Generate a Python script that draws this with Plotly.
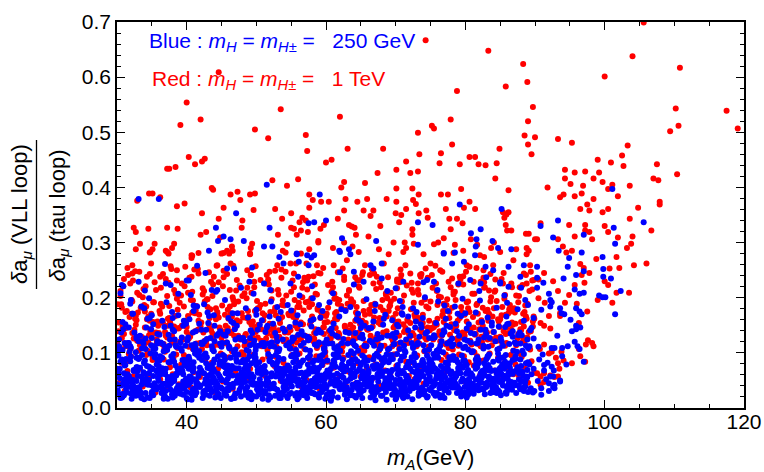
import plotly.graph_objects as go

# ---------------- data ----------------
# Red : m_H = m_H+- = 1 TeV  -- scattered upper points
red_top_x = [
    44.6, 105.6, 104.0, 110.8, 88.3, 100.0, 85.8, 88.9, 78.8, 74.3,
    83.3, 40.0, 53.5, 39.1, 42.0, 49.8, 51.7, 57.1, 57.3, 40.3,
    41.2, 42.2, 42.6, 60.0, 37.2, 37.5, 38.4, 43.6, 43.8, 56.0,
    52.3, 54.4, 34.6, 35.1, 32.9, 36.2, 38.6, 39.7, 46.3, 47.3,
    47.7, 49.1, 49.8, 45.3, 42.2, 49.6, 52.7, 57.6, 58.1, 59.3,
    57.6, 55.0, 44.6, 48.0, 53.7, 56.6, 57.1, 56.2, 32.4, 32.7,
    34.5, 37.2, 38.7, 47.9, 42.0, 42.8, 44.8, 53.1, 55.0, 55.4,
    55.8, 56.4, 57.4, 59.2, 59.7, 58.9, 58.9, 33.3, 32.7, 35.4,
    35.1, 34.7, 37.0, 37.4, 38.2, 37.9, 40.7, 40.7, 45.8, 46.1,
    46.6, 46.5, 45.0, 49.2, 49.4, 49.1, 54.4, 53.8, 56.4, 57.6,
    62.0, 89.7, 89.0, 77.9, 75.2, 75.5, 73.2, 88.5, 90.0, 89.0,
    89.5, 78.1, 63.1, 68.2, 84.9, 60.8, 73.4, 76.5, 71.5, 76.3,
    79.2, 80.6, 81.4, 81.9, 82.9, 84.5, 67.4, 70.1, 72.1, 73.2,
    84.3, 62.6, 62.2, 65.6, 60.4, 62.8, 64.5, 65.9, 68.7, 70.1,
    70.1, 72.4, 72.5, 72.9, 73.3, 76.5, 77.5, 79.4, 86.2, 80.6,
    79.8, 81.4, 85.4, 85.9, 86.2, 62.6, 65.4, 66.8, 66.4, 70.0,
    70.8, 71.5, 73.3, 74.4, 74.6, 77.2, 77.7, 78.8, 79.6, 61.7,
    63.3, 63.7, 64.1, 67.8, 70.5, 72.4, 72.4, 77.9, 85.6, 85.8,
    86.6, 86.0, 88.7, 89.1, 90.0, 61.0, 62.6, 63.8, 64.3, 66.1,
    67.6, 69.7, 71.3, 71.5, 72.6, 75.5, 76.1, 76.9, 78.5, 79.7,
    80.8, 81.7, 82.7, 83.7, 84.1, 88.8, 89.1, 87.3, 110.2, 117.5,
    119.1, 110.6, 109.4, 93.3, 95.3, 103.3, 102.5, 99.0, 100.9, 102.7,
    107.5, 94.3, 95.7, 97.2, 99.2, 110.4, 94.3, 98.4, 99.7, 107.0,
    107.7, 91.8, 95.1, 96.9, 101.1, 100.5, 103.6, 93.6, 94.1, 95.7,
    96.7, 98.4, 101.9, 97.5, 96.5, 97.8, 99.7, 100.5, 104.8, 107.9,
    107.9, 103.6, 90.8, 94.9, 97.2, 100.0, 97.2, 97.8, 100.5, 106.7,
    95.7, 98.2, 101.9, 104.0, 93.3, 90.3, 94.0, 94.5, 95.3, 103.8,
    103.2, 101.7, 98.8, 104.2, 106.0, 102.1, 100.7, 97.8, 97.0, 96.5,
    96.7, 100.0, 100.5, 97.1, 101.7, 103.5, 99.0, 101.1, 97.5, 96.0,
    95.7, 94.9, 93.3, 92.6, 91.3, 90.5, 91.4, 90.5, 94.3, 93.6,
    93.6, 92.0, 90.8, 91.3, 92.2, 96.3, 97.6, 97.3, 98.2, 98.4,
    96.3, 96.5, 97.2, 95.3, 91.3, 90.7, 92.4, 92.0, 93.8, 93.0,
    93.3, 93.5, 94.1, 90.3, 90.8, 91.3, 92.2, 92.8, 93.3, 90.8, 91.3,
    34.8, 37.2, 40.8, 41.7, 45.3, 49.1, 54.2, 32.2, 32.2, 36.2,
    38.6, 39.8, 44.4, 46.3, 48.7, 51.5, 53.0, 54.9, 55.4, 57.5,
    58.7, 59.2, 64.7, 69.0, 71.1, 74.0, 78.3, 82.1, 85.0, 88.8,
    61.1, 63.0, 68.3, 72.1, 75.0, 76.4, 80.2, 82.6, 84.0, 86.9,
    89.3, 64.9, 67.3, 70.2, 73.5, 78.1, 81.2, 88.4, 89.8,
]
red_top_y = [
    .609, .699, .638, .617, .624, .601, .583, .591, .575, .667,
    .648, .554, .542, .513, .523, .505, .489, .495, .466, .455,
    .442, .447, .452, .445, .434, .434, .437, .399, .396, .415,
    .413, .403, .389, .389, .376, .382, .366, .371, .387, .392,
    .377, .387, .389, .363, .353, .359, .361, .387, .377, .374,
    .363, .353, .343, .340, .343, .345, .340, .337, .327, .319,
    .325, .327, .325, .327, .314, .319, .309, .314, .327, .325,
    .314, .322, .319, .325, .332, .303, .300, .298, .288, .298,
    .288, .282, .285, .280, .298, .290, .277, .272, .285, .280,
    .285, .293, .280, .290, .298, .280, .298, .285, .280, .288,
    .528, .546, .520, .523, .512, .507, .499, .494, .491, .478,
    .460, .478, .470, .470, .470, .450, .460, .462, .447, .444,
    .442, .455, .455, .442, .440, .444, .426, .432, .426, .429,
    .416, .410, .400, .408, .374, .379, .374, .379, .379, .398,
    .374, .398, .377, .370, .387, .387, .387, .397, .395, .374,
    .363, .361, .355, .351, .355, .358, .358, .358, .348, .353,
    .350, .361, .353, .358, .345, .361, .343, .343, .335, .343,
    .332, .329, .327, .330, .337, .324, .314, .324, .345, .332,
    .322, .322, .316, .316, .306, .290, .300, .293, .314, .311,
    .288, .300, .300, .290, .298, .297, .300, .308, .296, .285,
    .306, .296, .274, .290, .300, .290, .285, .288, .543, .539,
    .507, .512, .502, .488, .481, .476, .458, .450, .445, .439,
    .442, .432, .427, .429, .427, .424, .416, .416, .410, .416,
    .413, .400, .406, .403, .405, .397, .403, .382, .387, .384,
    .389, .379, .384, .369, .361, .358, .355, .361, .363, .374,
    .369, .343, .335, .332, .332, .330, .322, .319, .319, .322,
    .311, .306, .309, .311, .306, .306, .293, .282, .285, .298,
    .290, .274, .270, .259, .262, .254, .253, .245, .254, .261,
    .241, .230, .223, .227, .209, .209, .196, .191, .175, .189,
    .223, .205, .212, .230, .245, .233, .191, .199, .191, .172,
    .167, .167, .154, .149, .144, .154, .123, .115, .118, .112,
    .107, .094, .084, .081, .115, .107, .102, .099, .102, .091,
    .081, .071, .086, .063, .057, .063, .059, .056, .057, .042, .047,
    .283, .283, .276, .281, .281, .279, .282, .259, .244, .238,
    .250, .256, .259, .262, .250, .241, .259, .262, .244, .238,
    .259, .244, .283, .279, .283, .279, .281, .277, .283, .279,
    .259, .268, .262, .244, .262, .250, .259, .250, .259, .268,
    .259, .232, .238, .229, .241, .235, .229, .244, .232,
]

# Red : first band of points below 0.27
red_band_x = [
    30.2, 30.6, 31.1, 31.5, 32.0, 32.4, 32.9, 30.4, 30.9, 31.3, 31.8, 32.2, 32.7, 30.1, 30.7, 31.2, 31.6, 32.1, 32.5, 32.8, 30.5, 31.0, 31.9, 32.6,
    33.3, 33.7, 34.2, 34.6, 35.1, 35.5, 35.9, 33.1, 33.6, 34.0, 34.5, 34.9, 35.4, 35.8, 33.4, 33.9, 34.3, 34.8, 35.2, 35.7, 33.2, 34.1, 34.7, 35.6,
    36.2, 36.7, 37.1, 37.6, 38.0, 38.5, 38.9, 36.4, 36.9, 37.3, 37.8, 38.2, 38.7, 36.1, 36.6, 37.0, 37.5, 37.9, 38.4, 38.8, 36.3, 37.2, 37.7, 38.6,
    39.2, 39.7, 40.1, 40.6, 41.0, 41.5, 41.9, 39.4, 39.9, 40.3, 40.8, 41.2, 41.7, 39.1, 39.6, 40.0, 40.5, 40.9, 41.4, 41.8, 39.3, 40.2, 40.7, 41.6,
    42.2, 42.7, 43.1, 43.6, 44.0, 44.5, 44.9, 42.4, 42.9, 43.3, 43.8, 44.2, 44.7, 42.1, 42.6, 43.0, 43.5, 43.9, 44.4, 44.8, 42.3, 43.2, 43.7, 44.6,
    45.2, 45.7, 46.1, 46.6, 47.0, 47.5, 47.9, 45.4, 45.9, 46.3, 46.8, 47.2, 47.7, 45.1, 45.6, 46.0, 46.5, 46.9, 47.4, 47.8, 45.3, 46.2, 46.7, 47.6,
    48.2, 48.7, 49.1, 49.6, 50.0, 50.5, 50.9, 48.4, 48.9, 49.3, 49.8, 50.2, 50.7, 48.1, 48.6, 49.0, 49.5, 49.9, 50.4, 50.8, 48.3, 49.2, 49.7, 50.6,
    51.2, 51.7, 52.1, 52.6, 53.0, 53.5, 53.9, 51.4, 51.9, 52.3, 52.8, 53.2, 53.7, 51.1, 51.6, 52.0, 52.5, 52.9, 53.4, 53.8, 51.3, 52.2, 52.7, 53.6,
    54.2, 54.7, 55.1, 55.6, 56.0, 56.5, 56.9, 54.4, 54.9, 55.3, 55.8, 56.2, 56.7, 54.1, 54.6, 55.0, 55.5, 55.9, 56.4, 56.8, 54.3, 55.2, 55.7, 56.6,
    57.2, 57.7, 58.1, 58.6, 59.0, 59.5, 59.9, 57.4, 57.9, 58.3, 58.8, 59.2, 59.7, 57.1, 57.6, 58.0, 58.5, 58.9, 59.4, 59.8, 57.3, 58.2, 58.7, 59.6,
    60.2, 60.7, 61.1, 61.6, 62.0, 62.5, 62.9, 60.4, 60.9, 61.3, 61.8, 62.2, 62.7, 60.1, 60.6, 61.0, 61.5, 61.9, 62.4, 62.8, 60.3, 61.2, 61.7, 62.6,
    63.2, 63.7, 64.1, 64.6, 65.0, 65.5, 65.9, 63.4, 63.9, 64.3, 64.8, 65.2, 65.7, 63.1, 63.6, 64.0, 64.5, 64.9, 65.4, 65.8, 63.3, 64.2, 64.7, 65.6,
    66.2, 66.7, 67.1, 67.6, 68.0, 68.5, 68.9, 66.4, 66.9, 67.3, 67.8, 68.2, 68.7, 66.1, 66.6, 67.0, 67.5, 67.9, 68.4, 68.8, 66.3, 67.2, 67.7, 68.6,
    69.2, 69.7, 70.1, 70.6, 71.0, 71.5, 71.9, 69.4, 69.9, 70.3, 70.8, 71.2, 71.7, 69.1, 69.6, 70.0, 70.5, 70.9, 71.4, 71.8, 69.3, 70.2, 70.7, 71.6,
    72.2, 72.7, 73.1, 73.6, 74.0, 74.5, 74.9, 72.4, 72.9, 73.3, 73.8, 74.2, 74.7, 72.1, 72.6, 73.0, 73.5, 73.9, 74.4, 74.8, 72.3, 73.2, 73.7, 74.6,
    75.2, 75.7, 76.1, 76.6, 77.0, 77.5, 77.9, 75.4, 75.9, 76.3, 76.8, 77.2, 77.7, 75.1, 75.6, 76.0, 76.5, 76.9, 77.4, 77.8, 75.3, 76.2, 76.7, 77.6,
    78.2, 78.7, 79.1, 79.6, 80.0, 80.5, 80.9, 78.4, 78.9, 79.3, 79.8, 80.2, 80.7, 78.1, 78.6, 79.0, 79.5, 79.9, 80.4, 80.8, 78.3, 79.2, 79.7, 80.6,
    81.2, 81.7, 82.1, 82.6, 83.0, 83.5, 83.9, 81.4, 81.9, 82.3, 82.8, 83.2, 83.7, 81.1, 81.6, 82.0, 82.5, 82.9, 83.4, 83.8, 81.3, 82.2, 82.7, 83.6,
    84.2, 84.7, 85.1, 85.6, 86.0, 86.5, 86.9, 84.4, 84.9, 85.3, 85.8, 86.2, 86.7, 84.1, 84.6, 85.0, 85.5, 85.9, 86.4, 86.8, 84.3, 85.2, 85.7, 86.6,
    87.2, 87.7, 88.1, 88.6, 89.0, 89.5, 89.9, 87.4, 87.9, 88.3, 88.8, 89.2, 89.7, 87.1, 87.6, 88.0, 88.5, 88.9, 89.4, 89.8, 87.3, 88.2, 88.7, 89.6,
]
red_band_y = [
    .045, .082, .031, .067, .094, .058, .122, .108, .143, .117, .165, .136, .151, .188, .127, .174, .113, .196, .142, .159, .212, .234, .226, .248,
    .071, .039, .096, .055, .087, .028, .063, .104, .128, .146, .119, .171, .135, .157, .182, .113, .161, .139, .192, .124, .205, .221, .243, .214,
    .052, .088, .034, .074, .061, .097, .043, .116, .138, .162, .127, .148, .109, .176, .154, .131, .185, .119, .167, .144, .218, .203, .257, .231,
    .079, .046, .091, .037, .065, .103, .056, .125, .152, .111, .173, .139, .158, .121, .184, .147, .133, .195, .117, .169, .226, .209, .238, .252,
    .063, .094, .041, .082, .029, .071, .099, .137, .114, .163, .128, .181, .146, .155, .122, .197, .141, .112, .172, .134, .217, .246, .203, .228,
    .048, .077, .092, .035, .066, .054, .101, .118, .145, .172, .131, .159, .124, .186, .139, .113, .166, .149, .193, .127, .237, .214, .258, .222,
    .086, .053, .071, .097, .042, .064, .088, .132, .115, .151, .176, .128, .143, .164, .199, .121, .157, .138, .181, .112, .208, .241, .219, .232,
    .059, .093, .037, .076, .104, .049, .082, .126, .153, .119, .168, .141, .187, .113, .135, .174, .148, .122, .161, .195, .226, .213, .249, .236,
    .074, .045, .096, .061, .083, .038, .107, .142, .118, .165, .129, .183, .152, .137, .171, .114, .196, .144, .124, .177, .204, .231, .262, .218,
    .051, .088, .067, .094, .036, .078, .102, .123, .158, .136, .181, .115, .147, .192, .129, .166, .143, .119, .174, .155, .215, .239, .206, .254,
    .084, .047, .073, .099, .058, .091, .039, .139, .117, .162, .128, .185, .149, .171, .124, .155, .198, .133, .112, .178, .223, .207, .246, .232,
    .066, .095, .043, .081, .057, .104, .072, .121, .146, .173, .134, .158, .117, .189, .141, .126, .167, .152, .194, .113, .212, .237, .221, .259,
    .092, .054, .079, .041, .087, .068, .098, .131, .164, .118, .152, .177, .139, .143, .125, .186, .114, .161, .135, .199, .241, .216, .228, .205,
    .061, .097, .076, .049, .093, .084, .058, .127, .149, .116, .172, .138, .161, .184, .122, .156, .131, .193, .145, .118, .209, .233, .251, .222,
    .083, .052, .095, .068, .044, .101, .077, .136, .119, .163, .147, .128, .181, .154, .191, .112, .142, .169, .124, .158, .227, .214, .243, .236,
    .071, .098, .056, .087, .063, .092, .045, .124, .151, .138, .176, .115, .163, .145, .129, .187, .117, .156, .197, .133, .218, .202, .247, .229,
    .089, .062, .097, .074, .048, .083, .103, .141, .122, .168, .135, .157, .119, .182, .148, .113, .174, .131, .193, .144, .211, .238, .224, .256,
    .077, .094, .059, .086, .069, .099, .052, .133, .116, .159, .142, .178, .125, .165, .187, .121, .149, .136, .171, .114, .207, .229, .218, .243,
    .068, .091, .054, .082, .073, .096, .061, .128, .147, .114, .169, .136, .155, .181, .122, .161, .139, .118, .175, .151, .213, .234, .205, .226,
    .079, .058, .093, .071, .046, .085, .064, .119, .143, .127, .162, .111, .148, .173, .134, .156, .121, .189, .139, .166, .204, .223, .241, .215,
]

# Red : second band of points (0.09 - 0.26)
red_band2_x = [
    30.0, 30.5, 30.8, 31.4, 31.7, 32.3, 32.6, 30.2, 30.6, 31.2, 31.5, 32.1, 32.4, 32.9, 30.3, 30.7, 31.0, 31.6, 31.9, 32.2, 32.7, 30.9, 31.3, 31.8,
    33.0, 33.5, 33.8, 34.4, 34.7, 35.3, 35.6, 33.2, 33.6, 34.2, 34.5, 35.1, 35.4, 35.9, 33.3, 33.7, 34.0, 34.6, 34.9, 35.2, 35.7, 33.9, 34.3, 34.8,
    36.0, 36.5, 36.8, 37.4, 37.7, 38.3, 38.6, 36.2, 36.6, 37.2, 37.5, 38.1, 38.4, 38.9, 36.3, 36.7, 37.0, 37.6, 37.9, 38.2, 38.7, 36.9, 37.3, 37.8,
    39.0, 39.5, 39.8, 40.4, 40.7, 41.3, 41.6, 39.2, 39.6, 40.2, 40.5, 41.1, 41.4, 41.9, 39.3, 39.7, 40.0, 40.6, 40.9, 41.2, 41.7, 39.9, 40.3, 40.8,
    42.0, 42.5, 42.8, 43.4, 43.7, 44.3, 44.6, 42.2, 42.6, 43.2, 43.5, 44.1, 44.4, 44.9, 42.3, 42.7, 43.0, 43.6, 43.9, 44.2, 44.7, 42.9, 43.3, 43.8,
    45.0, 45.5, 45.8, 46.4, 46.7, 47.3, 47.6, 45.2, 45.6, 46.2, 46.5, 47.1, 47.4, 47.9, 45.3, 45.7, 46.0, 46.6, 46.9, 47.2, 47.7, 45.9, 46.3, 46.8,
    48.0, 48.5, 48.8, 49.4, 49.7, 50.3, 50.6, 48.2, 48.6, 49.2, 49.5, 50.1, 50.4, 50.9, 48.3, 48.7, 49.0, 49.6, 49.9, 50.2, 50.7, 48.9, 49.3, 49.8,
    51.0, 51.5, 51.8, 52.4, 52.7, 53.3, 53.6, 51.2, 51.6, 52.2, 52.5, 53.1, 53.4, 53.9, 51.3, 51.7, 52.0, 52.6, 52.9, 53.2, 53.7, 51.9, 52.3, 52.8,
    54.0, 54.5, 54.8, 55.4, 55.7, 56.3, 56.6, 54.2, 54.6, 55.2, 55.5, 56.1, 56.4, 56.9, 54.3, 54.7, 55.0, 55.6, 55.9, 56.2, 56.7, 54.9, 55.3, 55.8,
    57.0, 57.5, 57.8, 58.4, 58.7, 59.3, 59.6, 57.2, 57.6, 58.2, 58.5, 59.1, 59.4, 59.9, 57.3, 57.7, 58.0, 58.6, 58.9, 59.2, 59.7, 57.9, 58.3, 58.8,
    60.0, 60.5, 60.8, 61.4, 61.7, 62.3, 62.6, 60.2, 60.6, 61.2, 61.5, 62.1, 62.4, 62.9, 60.3, 60.7, 61.0, 61.6, 61.9, 62.2, 62.7, 60.9, 61.3, 61.8,
    63.0, 63.5, 63.8, 64.4, 64.7, 65.3, 65.6, 63.2, 63.6, 64.2, 64.5, 65.1, 65.4, 65.9, 63.3, 63.7, 64.0, 64.6, 64.9, 65.2, 65.7, 63.9, 64.3, 64.8,
    66.0, 66.5, 66.8, 67.4, 67.7, 68.3, 68.6, 66.2, 66.6, 67.2, 67.5, 68.1, 68.4, 68.9, 66.3, 66.7, 67.0, 67.6, 67.9, 68.2, 68.7, 66.9, 67.3, 67.8,
    69.0, 69.5, 69.8, 70.4, 70.7, 71.3, 71.6, 69.2, 69.6, 70.2, 70.5, 71.1, 71.4, 71.9, 69.3, 69.7, 70.0, 70.6, 70.9, 71.2, 71.7, 69.9, 70.3, 70.8,
    72.0, 72.5, 72.8, 73.4, 73.7, 74.3, 74.6, 72.2, 72.6, 73.2, 73.5, 74.1, 74.4, 74.9, 72.3, 72.7, 73.0, 73.6, 73.9, 74.2, 74.7, 72.9, 73.3, 73.8,
    75.0, 75.5, 75.8, 76.4, 76.7, 77.3, 77.6, 75.2, 75.6, 76.2, 76.5, 77.1, 77.4, 77.9, 75.3, 75.7, 76.0, 76.6, 76.9, 77.2, 77.7, 75.9, 76.3, 76.8,
    78.0, 78.5, 78.8, 79.4, 79.7, 80.3, 80.6, 78.2, 78.6, 79.2, 79.5, 80.1, 80.4, 80.9, 78.3, 78.7, 79.0, 79.6, 79.9, 80.2, 80.7, 78.9, 79.3, 79.8,
    81.0, 81.5, 81.8, 82.4, 82.7, 83.3, 83.6, 81.2, 81.6, 82.2, 82.5, 83.1, 83.4, 83.9, 81.3, 81.7, 82.0, 82.6, 82.9, 83.2, 83.7, 81.9, 82.3, 82.8,
    84.0, 84.5, 84.8, 85.4, 85.7, 86.3, 86.6, 84.2, 84.6, 85.2, 85.5, 86.1, 86.4, 86.9, 84.3, 84.7, 85.0, 85.6, 85.9, 86.2, 86.7, 84.9, 85.3, 85.8,
    87.0, 87.5, 87.8, 88.4, 88.7, 89.3, 89.6, 87.2, 87.6, 88.2, 88.5, 89.1, 89.4, 89.9, 87.3, 87.7, 88.0, 88.6, 88.9, 89.2, 89.7, 87.9, 88.3, 88.8,
]
red_band2_y = [
    .118, .203, .147, .176, .098, .231, .162, .139, .188, .112, .254, .171, .126, .209, .155, .182, .134, .241, .107, .193, .167, .221, .145, .085,
    .173, .129, .216, .104, .158, .192, .137, .247, .121, .184, .166, .093, .228, .149, .114, .201, .175, .132, .262, .156, .118, .187, .238, .143,
    .136, .184, .109, .227, .152, .119, .198, .171, .243, .128, .163, .091, .207, .145, .189, .116, .234, .157, .131, .214, .178, .102, .149, .252,
    .191, .124, .158, .236, .113, .177, .142, .204, .096, .167, .129, .251, .185, .118, .149, .221, .138, .196, .107, .172, .244, .153, .126, .211,
    .148, .212, .121, .179, .135, .258, .164, .107, .193, .152, .229, .117, .174, .141, .206, .089, .183, .127, .238, .161, .114, .197, .145, .224,
    .127, .169, .243, .138, .196, .112, .157, .221, .149, .184, .103, .213, .131, .172, .249, .119, .162, .201, .144, .232, .097, .178, .136, .188,
    .203, .134, .176, .118, .229, .151, .187, .096, .163, .241, .128, .194, .145, .172, .113, .218, .156, .139, .257, .181, .122, .166, .209, .147,
    .159, .117, .224, .143, .182, .129, .251, .168, .105, .197, .136, .214, .154, .121, .189, .233, .142, .176, .111, .206, .165, .247, .131, .093,
    .186, .142, .113, .219, .163, .128, .201, .247, .137, .172, .108, .191, .155, .236, .124, .168, .211, .149, .183, .099, .228, .141, .176, .119,
    .131, .193, .158, .224, .109, .174, .146, .262, .183, .121, .207, .139, .168, .094, .231, .152, .188, .117, .245, .163, .134, .199, .126, .178,
    .167, .123, .211, .145, .189, .102, .238, .156, .131, .198, .174, .115, .253, .143, .182, .127, .219, .161, .196, .108, .147, .229, .172, .136,
    .204, .151, .118, .183, .137, .246, .169, .124, .197, .158, .231, .109, .176, .143, .214, .188, .132, .163, .099, .241, .154, .192, .127, .218,
    .142, .187, .226, .119, .163, .134, .208, .178, .251, .126, .155, .196, .113, .237, .171, .148, .189, .104, .219, .137, .166, .244, .129, .183,
    .176, .112, .198, .157, .234, .139, .121, .186, .163, .217, .107, .152, .259, .134, .193, .146, .171, .228, .118, .204, .158, .097, .181, .241,
    .128, .209, .164, .117, .191, .253, .146, .179, .132, .226, .158, .103, .184, .141, .215, .169, .123, .238, .154, .197, .111, .172, .206, .137,
    .193, .147, .226, .121, .168, .187, .109, .241, .154, .133, .201, .176, .118, .219, .145, .258, .162, .131, .189, .097, .174, .212, .139, .166,
    .152, .211, .126, .183, .239, .141, .174, .106, .196, .163, .128, .247, .181, .115, .206, .149, .224, .137, .169, .192, .122, .158, .233, .094,
    .207, .134, .171, .119, .228, .158, .193, .146, .254, .112, .182, .137, .213, .166, .101, .189, .143, .236, .176, .124, .201, .155, .129, .219,
    .138, .194, .157, .226, .113, .179, .142, .211, .126, .168, .245, .151, .187, .104, .233, .161, .129, .198, .146, .172, .219, .092, .183, .134,
    .181, .127, .219, .148, .166, .106, .231, .153, .192, .119, .174, .138, .247, .162, .114, .203, .141, .186, .128, .212, .157, .099, .171, .226,
]

# Blue : m_H = m_H+- = 250 GeV -- scattered upper points and the x > 90 tail
blue_top_x = [
    33.1, 36.0, 51.5, 47.1, 44.2, 45.3, 44.5, 46.3, 48.2, 51.9,
    51.1, 52.3, 43.2, 53.3, 55.8, 57.5, 58.3, 59.1, 60.0, 57.3,
    57.9, 58.3, 79.2, 85.2, 73.2, 75.3, 67.2, 62.3, 80.8, 82.2,
    81.6, 81.5, 83.9, 84.7, 86.6, 73.2, 76.9, 78.5, 61.9, 63.3,
    63.5, 101.1, 93.3, 90.8, 105.6, 101.3, 97.0, 92.6, 101.5, 93.4,
    96.7, 94.9, 99.7, 94.7, 95.9, 97.0, 94.1, 99.8, 99.8, 100.9,
    102.3, 95.7, 96.4, 97.0, 99.2, 99.7, 100.1, 101.5, 95.9, 96.4,
    96.7, 95.1, 95.9, 96.5, 95.9, 95.3, 92.2, 92.2, 92.4, 93.6,
    93.8, 94.2, 92.0, 90.3, 90.3, 90.3, 91.2, 90.9, 93.2, 95.7,
    96.4, 96.1, 94.7, 97.0, 93.9, 93.9, 94.5, 90.5, 91.1, 92.4,
    92.8, 91.3, 91.3, 92.6, 92.7, 92.2, 93.6, 92.0, 92.8, 92.8,
    90.9, 92.0, 90.9, 92.6, 93.6, 36.9, 41.5, 42.7, 45.8, 46.8,
    49.4, 55.8, 57.5, 30.7, 33.1, 37.7, 40.3, 43.6, 44.4, 51.1,
    54.9, 53.9, 56.1, 62.0, 66.4, 68.0, 66.8, 76.9, 78.1, 79.8,
    81.4, 82.9, 84.0, 86.2, 87.9, 88.4, 64.0, 65.4, 71.1, 74.5,
    75.5, 80.7, 82.2, 85.0, 86.2, 90.6, 91.8, 92.4, 90.4, 91.6,
]
blue_top_y = [
    .379, .379, .405, .353, .327, .311, .303, .306, .303, .327,
    .293, .293, .285, .274, .280, .335, .337, .387, .340, .277,
    .273, .277, .369, .361, .337, .332, .303, .308, .317, .324,
    .306, .293, .303, .290, .288, .296, .280, .282, .285, .288,
    .279, .397, .340, .330, .337, .327, .314, .309, .298, .285,
    .282, .272, .274, .256, .241, .248, .235, .252, .238, .235,
    .212, .215, .207, .209, .204, .201, .201, .170, .181, .175,
    .170, .160, .149, .146, .143, .139, .196, .184, .192, .181,
    .172, .170, .207, .256, .236, .218, .227, .178, .131, .120,
    .107, .112, .112, .084, .109, .094, .079, .111, .097, .109,
    .109, .078, .068, .057, .068, .057, .050, .045, .042, .036,
    .036, .031, .024, .038, .048, .261, .258, .245, .253, .253,
    .255, .279, .259, .223, .229, .223, .231, .214, .214, .226,
    .226, .262, .265, .283, .259, .262, .253, .281, .262, .265,
    .277, .256, .250, .256, .238, .259, .247, .229, .229, .232,
    .229, .232, .226, .226, .220, .088, .082, .075, .049, .052,
]

# Blue : middle band (0.11 - 0.25)
blue_mid_x = [
    30.3, 30.8, 31.4, 31.9, 32.5, 30.5, 31.1, 31.7, 32.2, 32.8, 30.9, 32.0,
    33.3, 33.8, 34.4, 34.9, 35.5, 33.5, 34.1, 34.6, 35.2, 35.8, 34.0, 35.0,
    36.3, 36.8, 37.4, 37.9, 38.5, 36.5, 37.1, 37.6, 38.2, 38.8, 37.0, 38.0,
    39.3, 39.8, 40.4, 40.9, 41.5, 39.5, 40.1, 40.6, 41.2, 41.8, 40.0, 41.0,
    42.3, 42.8, 43.4, 43.9, 44.5, 42.5, 43.1, 43.6, 44.2, 44.8, 43.0, 44.0,
    45.3, 45.8, 46.4, 46.9, 47.5, 45.5, 46.1, 46.6, 47.2, 47.8, 46.0, 47.0,
    48.3, 48.8, 49.4, 49.9, 50.5, 48.5, 49.1, 49.6, 50.2, 50.8, 49.0, 50.0,
    51.3, 51.8, 52.4, 52.9, 53.5, 51.5, 52.1, 52.6, 53.2, 53.8, 52.0, 53.0,
    54.3, 54.8, 55.4, 55.9, 56.5, 54.5, 55.1, 55.6, 56.2, 56.8, 55.0, 56.0,
    57.3, 57.8, 58.4, 58.9, 59.5, 57.5, 58.1, 58.6, 59.2, 59.8, 58.0, 59.0,
    60.3, 60.8, 61.4, 61.9, 62.5, 60.5, 61.1, 61.7, 62.2, 62.8, 61.0, 62.0,
    63.3, 63.8, 64.4, 64.9, 65.5, 63.5, 64.1, 64.6, 65.2, 65.8, 64.0, 65.0,
    66.3, 66.8, 67.4, 67.9, 68.5, 66.5, 67.1, 67.6, 68.2, 68.8, 67.0, 68.0,
    69.3, 69.8, 70.4, 70.9, 71.5, 69.5, 70.1, 70.6, 71.2, 71.8, 70.0, 71.0,
    72.3, 72.8, 73.4, 73.9, 74.5, 72.5, 73.1, 73.6, 74.2, 74.8, 73.0, 74.0,
    75.3, 75.8, 76.4, 76.9, 77.5, 75.5, 76.1, 76.6, 77.2, 77.8, 76.0, 77.0,
    78.3, 78.8, 79.4, 79.9, 80.5, 78.5, 79.1, 79.6, 80.2, 80.8, 79.0, 80.0,
    81.3, 81.8, 82.4, 82.9, 83.5, 81.5, 82.1, 82.6, 83.2, 83.8, 82.0, 83.0,
    84.3, 84.8, 85.4, 85.9, 86.5, 84.5, 85.1, 85.6, 86.2, 86.8, 85.0, 86.0,
    87.3, 87.8, 88.4, 88.9, 89.5, 87.5, 88.1, 88.6, 89.2, 89.8, 88.0, 89.0,
]
blue_mid_y = [
    .124, .156, .113, .189, .137, .208, .118, .146, .171, .129, .221, .196,
    .131, .117, .162, .143, .108, .184, .126, .199, .152, .121, .213, .168,
    .119, .147, .133, .174, .111, .158, .192, .124, .139, .207, .226, .163,
    .128, .113, .161, .137, .184, .149, .122, .205, .116, .153, .231, .176,
    .116, .142, .127, .168, .134, .188, .154, .112, .211, .139, .173, .121,
    .133, .119, .157, .143, .128, .196, .111, .172, .149, .218, .163, .124,
    .121, .164, .136, .112, .151, .181, .127, .207, .142, .118, .229, .169,
    .138, .117, .153, .129, .174, .146, .193, .111, .162, .124, .214, .183,
    .114, .147, .126, .168, .139, .187, .121, .155, .204, .132, .177, .238,
    .129, .158, .115, .142, .176, .123, .199, .136, .164, .118, .221, .187,
    .117, .144, .131, .166, .125, .192, .153, .112, .179, .138, .208, .246,
    .136, .119, .161, .128, .149, .183, .114, .171, .133, .197, .224, .155,
    .122, .157, .134, .113, .169, .145, .188, .126, .151, .212, .176, .235,
    .131, .116, .148, .172, .124, .159, .137, .194, .113, .166, .217, .183,
    .118, .146, .129, .163, .138, .181, .115, .152, .201, .127, .174, .228,
    .127, .154, .113, .141, .176, .132, .193, .121, .162, .147, .214, .186,
    .115, .139, .167, .124, .152, .184, .131, .198, .144, .119, .226, .172,
    .134, .118, .156, .142, .127, .173, .195, .113, .164, .149, .212, .237,
    .121, .148, .113, .166, .135, .182, .127, .204, .153, .139, .228, .191,
    .116, .137, .158, .124, .145, .179, .132, .196, .112, .163, .218, .187,
]

# Blue : lower part of the middle band (0.10 - 0.19)
blue_mid2_x = [
    30.1, 30.6, 31.2, 31.7, 32.3, 32.8, 30.9, 32.0,
    33.1, 33.6, 34.2, 34.7, 35.3, 35.8, 33.9, 35.0,
    36.1, 36.6, 37.2, 37.7, 38.3, 38.8, 36.9, 38.0,
    39.1, 39.6, 40.2, 40.7, 41.3, 41.8, 39.9, 41.0,
    42.1, 42.6, 43.2, 43.7, 44.3, 44.8, 42.9, 44.0,
    45.1, 45.6, 46.2, 46.7, 47.3, 47.8, 45.9, 47.0,
    48.1, 48.6, 49.2, 49.7, 50.3, 50.8, 48.9, 50.0,
    51.1, 51.6, 52.2, 52.7, 53.3, 53.8, 51.9, 53.0,
    54.1, 54.6, 55.2, 55.7, 56.3, 56.8, 54.9, 56.0,
    57.1, 57.6, 58.2, 58.7, 59.3, 59.8, 57.9, 59.0,
    60.1, 60.6, 61.2, 61.7, 62.3, 62.8, 60.9, 62.0,
    63.1, 63.6, 64.2, 64.7, 65.3, 65.8, 63.9, 65.0,
    66.1, 66.6, 67.2, 67.7, 68.3, 68.8, 66.9, 68.0,
    69.1, 69.6, 70.2, 70.7, 71.3, 71.8, 69.9, 71.0,
    72.1, 72.6, 73.2, 73.7, 74.3, 74.8, 72.9, 74.0,
    75.1, 75.6, 76.2, 76.7, 77.3, 77.8, 75.9, 77.0,
    78.1, 78.6, 79.2, 79.7, 80.3, 80.8, 78.9, 80.0,
    81.1, 81.6, 82.2, 82.7, 83.3, 83.8, 81.9, 83.0,
    84.1, 84.6, 85.2, 85.7, 86.3, 86.8, 84.9, 86.0,
    87.1, 87.6, 88.2, 88.7, 89.3, 89.8, 87.9, 89.0,
]
blue_mid2_y = [
    .104, .137, .152, .118, .171, .126, .143, .109,
    .121, .108, .146, .163, .112, .134, .181, .127,
    .133, .116, .105, .149, .124, .168, .111, .142,
    .109, .158, .128, .114, .139, .103, .153, .186,
    .142, .121, .167, .106, .131, .117, .125, .149,
    .118, .131, .108, .154, .172, .125, .139, .106,
    .127, .105, .141, .122, .113, .159, .103, .178,
    .112, .149, .119, .136, .107, .144, .166, .121,
    .139, .114, .128, .105, .152, .118, .108, .133,
    .106, .126, .161, .113, .137, .109, .148, .119,
    .124, .141, .109, .129, .118, .176, .135, .104,
    .117, .103, .136, .158, .126, .112, .121, .145,
    .145, .119, .124, .107, .162, .131, .113, .128,
    .108, .134, .151, .119, .104, .141, .127, .169,
    .131, .112, .118, .146, .135, .106, .157, .114,
    .114, .128, .107, .133, .149, .121, .104, .138,
    .126, .153, .115, .109, .122, .136, .171, .111,
    .103, .117, .142, .128, .111, .155, .124, .134,
    .138, .106, .121, .147, .116, .129, .108, .152,
    .119, .132, .104, .113, .141, .126, .117, .109,
]

# Blue : dense band near the bottom (0.013 - 0.12), first set
blue_low_x = [
    30.1, 30.4, 30.8, 31.2, 30.2, 30.6, 31.0, 31.4, 30.3, 30.9, 31.3, 30.0, 30.5, 30.7, 31.1, 30.2, 30.8, 31.4, 30.4, 31.0,
    31.6, 32.0, 32.4, 32.8, 31.7, 32.1, 32.5, 32.9, 31.8, 32.2, 32.6, 31.5, 31.9, 32.3, 32.7, 31.6, 32.0, 32.4, 32.8, 32.2,
    33.1, 33.5, 33.9, 34.3, 33.2, 33.6, 34.0, 34.4, 33.3, 33.7, 34.1, 33.0, 33.4, 33.8, 34.2, 33.1, 33.5, 33.9, 34.3, 33.7,
    34.6, 35.0, 35.4, 35.8, 34.7, 35.1, 35.5, 35.9, 34.8, 35.2, 35.6, 34.5, 34.9, 35.3, 35.7, 34.6, 35.0, 35.4, 35.8, 35.2,
    36.1, 36.5, 36.9, 37.3, 36.2, 36.6, 37.0, 37.4, 36.3, 36.7, 37.1, 36.0, 36.4, 36.8, 37.2, 36.1, 36.5, 36.9, 37.3, 36.7,
    37.6, 38.0, 38.4, 38.8, 37.7, 38.1, 38.5, 38.9, 37.8, 38.2, 38.6, 37.5, 37.9, 38.3, 38.7, 37.6, 38.0, 38.4, 38.8, 38.2,
    39.1, 39.5, 39.9, 40.3, 39.2, 39.6, 40.0, 40.4, 39.3, 39.7, 40.1, 39.0, 39.4, 39.8, 40.2, 39.1, 39.5, 39.9, 40.3, 39.7,
    40.6, 41.0, 41.4, 41.8, 40.7, 41.1, 41.5, 41.9, 40.8, 41.2, 41.6, 40.5, 40.9, 41.3, 41.7, 40.6, 41.0, 41.4, 41.8, 41.2,
    42.1, 42.5, 42.9, 43.3, 42.2, 42.6, 43.0, 43.4, 42.3, 42.7, 43.1, 42.0, 42.4, 42.8, 43.2, 42.1, 42.5, 42.9, 43.3, 42.7,
    43.6, 44.0, 44.4, 44.8, 43.7, 44.1, 44.5, 44.9, 43.8, 44.2, 44.6, 43.5, 43.9, 44.3, 44.7, 43.6, 44.0, 44.4, 44.8, 44.2,
    45.1, 45.5, 45.9, 46.3, 45.2, 45.6, 46.0, 46.4, 45.3, 45.7, 46.1, 45.0, 45.4, 45.8, 46.2, 45.1, 45.5, 45.9, 46.3, 45.7,
    46.6, 47.0, 47.4, 47.8, 46.7, 47.1, 47.5, 47.9, 46.8, 47.2, 47.6, 46.5, 46.9, 47.3, 47.7, 46.6, 47.0, 47.4, 47.8, 47.2,
    48.1, 48.5, 48.9, 49.3, 48.2, 48.6, 49.0, 49.4, 48.3, 48.7, 49.1, 48.0, 48.4, 48.8, 49.2, 48.1, 48.5, 48.9, 49.3, 48.7,
    49.6, 50.0, 50.4, 50.8, 49.7, 50.1, 50.5, 50.9, 49.8, 50.2, 50.6, 49.5, 49.9, 50.3, 50.7, 49.6, 50.0, 50.4, 50.8, 50.2,
    51.1, 51.5, 51.9, 52.3, 51.2, 51.6, 52.0, 52.4, 51.3, 51.7, 52.1, 51.0, 51.4, 51.8, 52.2, 51.1, 51.5, 51.9, 52.3, 51.7,
    52.6, 53.0, 53.4, 53.8, 52.7, 53.1, 53.5, 53.9, 52.8, 53.2, 53.6, 52.5, 52.9, 53.3, 53.7, 52.6, 53.0, 53.4, 53.8, 53.2,
    54.1, 54.5, 54.9, 55.3, 54.2, 54.6, 55.0, 55.4, 54.3, 54.7, 55.1, 54.0, 54.4, 54.8, 55.2, 54.1, 54.5, 54.9, 55.3, 54.7,
    55.6, 56.0, 56.4, 56.8, 55.7, 56.1, 56.5, 56.9, 55.8, 56.2, 56.6, 55.5, 55.9, 56.3, 56.7, 55.6, 56.0, 56.4, 56.8, 56.2,
    57.1, 57.5, 57.9, 58.3, 57.2, 57.6, 58.0, 58.4, 57.3, 57.7, 58.1, 57.0, 57.4, 57.8, 58.2, 57.1, 57.5, 57.9, 58.3, 57.7,
    58.6, 59.0, 59.4, 59.8, 58.7, 59.1, 59.5, 59.9, 58.8, 59.2, 59.6, 58.5, 58.9, 59.3, 59.7, 58.6, 59.0, 59.4, 59.8, 59.2,
    60.1, 60.5, 60.9, 61.3, 60.2, 60.6, 61.0, 61.4, 60.3, 60.7, 61.1, 60.0, 60.4, 60.8, 61.2, 60.1, 60.5, 60.9, 61.3, 60.7,
    61.6, 62.0, 62.4, 62.8, 61.7, 62.1, 62.5, 62.9, 61.8, 62.2, 62.6, 61.5, 61.9, 62.3, 62.7, 61.6, 62.0, 62.4, 62.8, 62.2,
    63.1, 63.5, 63.9, 64.3, 63.2, 63.6, 64.0, 64.4, 63.3, 63.7, 64.1, 63.0, 63.4, 63.8, 64.2, 63.1, 63.5, 63.9, 64.3, 63.7,
    64.6, 65.0, 65.4, 65.8, 64.7, 65.1, 65.5, 65.9, 64.8, 65.2, 65.6, 64.5, 64.9, 65.3, 65.7, 64.6, 65.0, 65.4, 65.8, 65.2,
    66.1, 66.5, 66.9, 67.3, 66.2, 66.6, 67.0, 67.4, 66.3, 66.7, 67.1, 66.0, 66.4, 66.8, 67.2, 66.1, 66.5, 66.9, 67.3, 66.7,
    67.6, 68.0, 68.4, 68.8, 67.7, 68.1, 68.5, 68.9, 67.8, 68.2, 68.6, 67.5, 67.9, 68.3, 68.7, 67.6, 68.0, 68.4, 68.8, 68.2,
    69.1, 69.5, 69.9, 70.3, 69.2, 69.6, 70.0, 70.4, 69.3, 69.7, 70.1, 69.0, 69.4, 69.8, 70.2, 69.1, 69.5, 69.9, 70.3, 69.7,
    70.6, 71.0, 71.4, 71.8, 70.7, 71.1, 71.5, 71.9, 70.8, 71.2, 71.6, 70.5, 70.9, 71.3, 71.7, 70.6, 71.0, 71.4, 71.8, 71.2,
    72.1, 72.5, 72.9, 73.3, 72.2, 72.6, 73.0, 73.4, 72.3, 72.7, 73.1, 72.0, 72.4, 72.8, 73.2, 72.1, 72.5, 72.9, 73.3, 72.7,
    73.6, 74.0, 74.4, 74.8, 73.7, 74.1, 74.5, 74.9, 73.8, 74.2, 74.6, 73.5, 73.9, 74.3, 74.7, 73.6, 74.0, 74.4, 74.8, 74.2,
    75.1, 75.5, 75.9, 76.3, 75.2, 75.6, 76.0, 76.4, 75.3, 75.7, 76.1, 75.0, 75.4, 75.8, 76.2, 75.1, 75.5, 75.9, 76.3, 75.7,
    76.6, 77.0, 77.4, 77.8, 76.7, 77.1, 77.5, 77.9, 76.8, 77.2, 77.6, 76.5, 76.9, 77.3, 77.7, 76.6, 77.0, 77.4, 77.8, 77.2,
    78.1, 78.5, 78.9, 79.3, 78.2, 78.6, 79.0, 79.4, 78.3, 78.7, 79.1, 78.0, 78.4, 78.8, 79.2, 78.1, 78.5, 78.9, 79.3, 78.7,
    79.6, 80.0, 80.4, 80.8, 79.7, 80.1, 80.5, 80.9, 79.8, 80.2, 80.6, 79.5, 79.9, 80.3, 80.7, 79.6, 80.0, 80.4, 80.8, 80.2,
    81.1, 81.5, 81.9, 82.3, 81.2, 81.6, 82.0, 82.4, 81.3, 81.7, 82.1, 81.0, 81.4, 81.8, 82.2, 81.1, 81.5, 81.9, 82.3, 81.7,
    82.6, 83.0, 83.4, 83.8, 82.7, 83.1, 83.5, 83.9, 82.8, 83.2, 83.6, 82.5, 82.9, 83.3, 83.7, 82.6, 83.0, 83.4, 83.8, 83.2,
    84.1, 84.5, 84.9, 85.3, 84.2, 84.6, 85.0, 85.4, 84.3, 84.7, 85.1, 84.0, 84.4, 84.8, 85.2, 84.1, 84.5, 84.9, 85.3, 84.7,
    85.6, 86.0, 86.4, 86.8, 85.7, 86.1, 86.5, 86.9, 85.8, 86.2, 86.6, 85.5, 85.9, 86.3, 86.7, 85.6, 86.0, 86.4, 86.8, 86.2,
    87.1, 87.5, 87.9, 88.3, 88.7, 87.3, 87.7, 88.1, 88.5, 88.9, 87.2, 87.6, 88.0, 88.4, 88.8, 87.4, 87.8, 88.2, 88.6, 89.0,
]
blue_low_y = [
    .032, .054, .021, .078, .095, .041, .063, .028, .112, .046, .035, .071, .018, .088, .052, .066, .105, .039, .025, .083,
    .047, .026, .069, .091, .058, .017, .036, .074, .102, .044, .029, .061, .085, .051, .022, .118, .038, .067, .049, .031,
    .024, .057, .081, .043, .034, .096, .062, .019, .073, .048, .107, .037, .028, .065, .053, .089, .042, .016, .076, .121,
    .063, .029, .045, .087, .018, .071, .039, .054, .099, .023, .068, .042, .114, .033, .079, .051, .026, .092, .037, .058,
    .038, .072, .021, .056, .094, .044, .031, .083, .061, .017, .108, .049, .027, .069, .041, .086, .035, .064, .052, .024,
    .055, .019, .077, .041, .033, .098, .062, .027, .046, .084, .036, .113, .058, .022, .071, .043, .089, .031, .066, .049,
    .026, .061, .044, .093, .072, .035, .018, .057, .104, .048, .081, .029, .067, .039, .053, .119, .024, .076, .042, .087,
    .047, .083, .028, .064, .015, .052, .096, .038, .069, .023, .044, .078, .034, .109, .058, .027, .073, .049, .091, .036,
    .068, .031, .054, .022, .087, .045, .073, .036, .018, .099, .059, .041, .026, .081, .048, .116, .063, .033, .077, .052,
    .029, .066, .043, .085, .057, .019, .094, .037, .071, .048, .025, .062, .103, .034, .079, .046, .088, .021, .055, .039,
    .051, .024, .077, .039, .096, .063, .032, .017, .084, .046, .058, .111, .027, .069, .042, .035, .074, .053, .091, .022,
    .037, .072, .056, .021, .044, .089, .028, .065, .101, .049, .033, .076, .018, .058, .083, .041, .026, .097, .061, .046,
    .064, .035, .019, .081, .053, .027, .094, .043, .071, .038, .114, .056, .024, .068, .047, .087, .031, .076, .016, .059,
    .042, .078, .025, .061, .093, .034, .052, .017, .086, .069, .039, .047, .105, .029, .073, .056, .021, .083, .044, .064,
    .026, .054, .088, .037, .067, .045, .019, .079, .031, .098, .057, .072, .041, .023, .063, .118, .049, .035, .082, .015,
    .059, .033, .071, .047, .022, .085, .053, .038, .096, .027, .064, .044, .079, .018, .056, .036, .102, .068, .029, .091,
    .044, .018, .066, .083, .036, .057, .027, .093, .049, .074, .039, .062, .021, .108, .051, .032, .077, .045, .065, .025,
    .073, .041, .028, .055, .089, .019, .064, .037, .048, .081, .026, .059, .097, .043, .034, .068, .052, .113, .023, .076,
    .031, .062, .047, .086, .024, .071, .039, .054, .018, .095, .066, .035, .079, .044, .027, .058, .091, .049, .072, .104,
    .055, .026, .078, .043, .064, .094, .033, .017, .069, .049, .084, .038, .022, .059, .107, .046, .073, .029, .052, .088,
    .039, .067, .021, .052, .086, .044, .029, .075, .058, .013, .097, .035, .063, .048, .082, .024, .056, .117, .041, .071,
    .062, .034, .088, .047, .019, .072, .055, .028, .093, .041, .066, .051, .037, .079, .024, .101, .045, .069, .031, .058,
    .027, .053, .074, .038, .096, .061, .022, .046, .083, .033, .057, .016, .068, .042, .089, .049, .029, .078, .112, .064,
    .046, .081, .032, .063, .025, .054, .092, .039, .071, .018, .049, .085, .036, .066, .057, .104, .028, .043, .076, .061,
    .068, .041, .023, .079, .052, .034, .095, .061, .044, .027, .073, .057, .019, .088, .038, .064, .049, .031, .099, .055,
    .033, .059, .087, .045, .071, .022, .054, .038, .108, .066, .029, .048, .076, .042, .015, .093, .061, .035, .052, .082,
    .057, .024, .044, .072, .036, .089, .051, .028, .065, .041, .019, .083, .055, .031, .098, .047, .069, .026, .061, .115,
    .042, .067, .029, .053, .086, .018, .074, .046, .035, .094, .058, .025, .063, .039, .079, .052, .021, .101, .048, .033,
    .071, .036, .054, .022, .047, .083, .061, .029, .092, .043, .068, .034, .016, .077, .056, .039, .109, .064, .027, .049,
    .025, .058, .043, .081, .066, .031, .095, .048, .037, .072, .021, .056, .087, .044, .063, .029, .076, .051, .034, .104,
    .049, .073, .027, .062, .038, .091, .055, .019, .079, .044, .067, .032, .098, .053, .024, .084, .041, .061, .036, .071,
    .064, .032, .048, .087, .023, .056, .071, .039, .101, .045, .028, .076, .059, .035, .092, .051, .018, .067, .043, .082,
    .037, .061, .083, .029, .052, .044, .073, .021, .094, .058, .035, .066, .047, .027, .079, .112, .054, .039, .063, .088,
    .053, .028, .069, .041, .086, .062, .034, .057, .024, .078, .047, .095, .038, .066, .031, .073, .049, .106, .058, .043,
    .044, .071, .032, .058, .026, .083, .049, .067, .037, .092, .055, .029, .076, .041, .063, .035, .052, .087, .046, .074,
    .067, .038, .054, .029, .081, .046, .072, .036, .059, .094, .027, .063, .044, .078, .051, .033, .088, .057, .041, .069,
    .035, .062, .047, .079, .029, .056, .091, .041, .068, .032, .074, .053, .038, .086, .061, .045, .027, .071, .049, .099,
    .058, .031, .073, .044, .084, .052, .036, .066, .028, .079, .047, .092, .039, .061, .033, .071, .055, .042, .087, .064,
    .046, .072, .034, .058, .081, .027, .063, .049, .038, .069, .089, .041, .076, .031, .054, .102, .037, .065, .047, .029,
]

# Blue : dense band near the bottom, second set
blue_low2_x = [
    30.0, 30.4, 30.9, 31.3, 31.8, 32.2, 32.7, 30.2, 30.7, 31.1, 31.6, 32.0, 32.5, 32.9, 30.5, 31.0, 31.4, 31.9, 32.4, 32.8,
    33.0, 33.4, 33.9, 34.3, 34.8, 35.2, 35.7, 33.2, 33.7, 34.1, 34.6, 35.0, 35.5, 35.9, 33.5, 34.0, 34.4, 34.9, 35.4, 35.8,
    36.0, 36.4, 36.9, 37.3, 37.8, 38.2, 38.7, 36.2, 36.7, 37.1, 37.6, 38.0, 38.5, 38.9, 36.5, 37.0, 37.4, 37.9, 38.4, 38.8,
    39.0, 39.4, 39.9, 40.3, 40.8, 41.2, 41.7, 39.2, 39.7, 40.1, 40.6, 41.0, 41.5, 41.9, 39.5, 40.0, 40.4, 40.9, 41.4, 41.8,
    42.0, 42.4, 42.9, 43.3, 43.8, 44.2, 44.7, 42.2, 42.7, 43.1, 43.6, 44.0, 44.5, 44.9, 42.5, 43.0, 43.4, 43.9, 44.4, 44.8,
    45.0, 45.4, 45.9, 46.3, 46.8, 47.2, 47.7, 45.2, 45.7, 46.1, 46.6, 47.0, 47.5, 47.9, 45.5, 46.0, 46.4, 46.9, 47.4, 47.8,
    48.0, 48.4, 48.9, 49.3, 49.8, 50.2, 50.7, 48.2, 48.7, 49.1, 49.6, 50.0, 50.5, 50.9, 48.5, 49.0, 49.4, 49.9, 50.4, 50.8,
    51.0, 51.4, 51.9, 52.3, 52.8, 53.2, 53.7, 51.2, 51.7, 52.1, 52.6, 53.0, 53.5, 53.9, 51.5, 52.0, 52.4, 52.9, 53.4, 53.8,
    54.0, 54.4, 54.9, 55.3, 55.8, 56.2, 56.7, 54.2, 54.7, 55.1, 55.6, 56.0, 56.5, 56.9, 54.5, 55.0, 55.4, 55.9, 56.4, 56.8,
    57.0, 57.4, 57.9, 58.3, 58.8, 59.2, 59.7, 57.2, 57.7, 58.1, 58.6, 59.0, 59.5, 59.9, 57.5, 58.0, 58.4, 58.9, 59.4, 59.8,
    60.0, 60.4, 60.9, 61.3, 61.8, 62.2, 62.7, 60.2, 60.7, 61.1, 61.6, 62.0, 62.5, 62.9, 60.5, 61.0, 61.4, 61.9, 62.4, 62.8,
    63.0, 63.4, 63.9, 64.3, 64.8, 65.2, 65.7, 63.2, 63.7, 64.1, 64.6, 65.0, 65.5, 65.9, 63.5, 64.0, 64.4, 64.9, 65.4, 65.8,
    66.0, 66.4, 66.9, 67.3, 67.8, 68.2, 68.7, 66.2, 66.7, 67.1, 67.6, 68.0, 68.5, 68.9, 66.5, 67.0, 67.4, 67.9, 68.4, 68.8,
    69.0, 69.4, 69.9, 70.3, 70.8, 71.2, 71.7, 69.2, 69.7, 70.1, 70.6, 71.0, 71.5, 71.9, 69.5, 70.0, 70.4, 70.9, 71.4, 71.8,
    72.0, 72.4, 72.9, 73.3, 73.8, 74.2, 74.7, 72.2, 72.7, 73.1, 73.6, 74.0, 74.5, 74.9, 72.5, 73.0, 73.4, 73.9, 74.4, 74.8,
    75.0, 75.4, 75.9, 76.3, 76.8, 77.2, 77.7, 75.2, 75.7, 76.1, 76.6, 77.0, 77.5, 77.9, 75.5, 76.0, 76.4, 76.9, 77.4, 77.8,
    78.0, 78.4, 78.9, 79.3, 79.8, 80.2, 80.7, 78.2, 78.7, 79.1, 79.6, 80.0, 80.5, 80.9, 78.5, 79.0, 79.4, 79.9, 80.4, 80.8,
    81.0, 81.4, 81.9, 82.3, 82.8, 83.2, 83.7, 81.2, 81.7, 82.1, 82.6, 83.0, 83.5, 83.9, 81.5, 82.0, 82.4, 82.9, 83.4, 83.8,
    84.0, 84.4, 84.9, 85.3, 85.8, 86.2, 86.7, 84.2, 84.7, 85.1, 85.6, 86.0, 86.5, 86.9, 84.5, 85.0, 85.4, 85.9, 86.4, 86.8,
    87.0, 87.4, 87.9, 88.3, 88.8, 89.2, 89.7, 87.2, 87.7, 88.1, 88.6, 89.0, 89.5, 89.9, 87.5, 88.0, 88.4, 88.9, 89.4, 89.8,
]
blue_low2_y = [
    .043, .071, .026, .089, .054, .037, .101, .062, .019, .077, .048, .093, .031, .066, .084, .023, .057, .112, .039, .074,
    .058, .022, .083, .046, .069, .107, .034, .091, .052, .027, .075, .041, .098, .063, .018, .086, .049, .072, .035, .117,
    .076, .039, .061, .017, .094, .052, .028, .068, .103, .045, .083, .023, .059, .036, .091, .071, .047, .025, .114, .064,
    .034, .087, .053, .071, .024, .099, .062, .041, .079, .016, .056, .106, .038, .073, .048, .029, .088, .066, .044, .095,
    .067, .029, .092, .045, .081, .033, .058, .119, .024, .073, .049, .087, .062, .018, .096, .039, .071, .054, .027, .083,
    .051, .094, .036, .068, .021, .084, .047, .076, .031, .109, .059, .026, .072, .043, .088, .063, .017, .097, .055, .038,
    .083, .047, .019, .061, .098, .035, .072, .053, .088, .028, .116, .044, .067, .031, .079, .056, .023, .091, .042, .069,
    .029, .064, .085, .042, .057, .103, .024, .076, .048, .093, .036, .067, .018, .089, .053, .112, .038, .071, .061, .026,
    .071, .035, .054, .097, .027, .063, .086, .041, .118, .059, .022, .078, .046, .033, .068, .094, .051, .016, .082, .044,
    .048, .091, .027, .074, .056, .039, .108, .065, .031, .083, .047, .019, .096, .061, .038, .072, .025, .087, .053, .101,
    .062, .024, .079, .043, .093, .057, .032, .068, .017, .086, .051, .104, .039, .075, .028, .059, .091, .046, .071, .035,
    .037, .081, .056, .019, .069, .095, .044, .027, .087, .061, .034, .078, .113, .052, .023, .099, .066, .041, .084, .058,
    .086, .042, .071, .029, .058, .036, .097, .053, .076, .014, .064, .089, .047, .106, .031, .073, .055, .022, .091, .067,
    .053, .096, .033, .078, .046, .063, .021, .088, .041, .071, .107, .029, .057, .084, .039, .016, .068, .093, .048, .076,
    .031, .066, .092, .051, .084, .024, .073, .045, .099, .037, .062, .081, .019, .056, .111, .043, .077, .034, .069, .089,
    .074, .028, .057, .103, .039, .082, .048, .066, .022, .091, .054, .036, .079, .061, .026, .094, .043, .072, .117, .051,
    .046, .087, .064, .033, .076, .019, .059, .094, .041, .068, .027, .083, .052, .101, .037, .071, .048, .086, .024, .063,
    .059, .038, .081, .054, .025, .092, .067, .031, .077, .048, .108, .043, .069, .029, .088, .056, .035, .073, .097, .042,
    .084, .051, .029, .072, .096, .043, .064, .037, .089, .023, .058, .077, .046, .104, .033, .068, .053, .026, .081, .062,
    .041, .069, .088, .035, .057, .079, .028, .094, .052, .066, .039, .083, .061, .031, .074, .047, .098, .056, .036, .071,
]

x_tick_values = [40, 60, 80, 100, 120]
y_tick_values = [0.0, 0.1, 0.2, 0.3, 0.4, 0.5, 0.6, 0.7]

# ---------------- figure ----------------
for nm, a, b in [("red_top", red_top_x, red_top_y), ("red_band", red_band_x, red_band_y),
                 ("red_band2", red_band2_x, red_band2_y),
                 ("blue_top", blue_top_x, blue_top_y), ("blue_mid", blue_mid_x, blue_mid_y),
                 ("blue_mid2", blue_mid2_x, blue_mid2_y),
                 ("blue_low", blue_low_x, blue_low_y), ("blue_low2", blue_low2_x, blue_low2_y)]:
    assert len(a) == len(b), f"{nm}: {len(a)} x vs {len(b)} y"

RED = "rgb(255,0,0)"
BLUE = "rgb(0,0,255)"
FONT = "Liberation Sans, Arial, sans-serif"
MS = 6

fig = go.Figure()
fig.add_trace(go.Scatter(x=red_top_x + red_band_x + red_band2_x,
                         y=red_top_y + red_band_y + red_band2_y, mode="markers",
                         marker=dict(color=RED, size=MS, line=dict(width=0)),
                         showlegend=False, hoverinfo="skip"))
fig.add_trace(go.Scatter(x=blue_low_x + blue_low2_x + blue_mid2_x + blue_mid_x + blue_top_x,
                         y=blue_low_y + blue_low2_y + blue_mid2_y + blue_mid_y + blue_top_y,
                         mode="markers", marker=dict(color=BLUE, size=MS, line=dict(width=0)),
                         showlegend=False, hoverinfo="skip"))

axis_common = dict(showline=True, linecolor="black", linewidth=1.6, mirror="allticks",
                   ticks="inside", ticklen=8, tickwidth=1.3, tickcolor="black",
                   showgrid=False, zeroline=False, automargin=False,
                   tickfont=dict(family=FONT, size=21, color="black"))

fig.update_xaxes(range=[30, 120], tickvals=x_tick_values, ticklabelstandoff=-6,
                 minor=dict(dtick=5, tick0=0, ticks="inside", ticklen=4.5, tickwidth=1.1,
                            tickcolor="black", showgrid=False),
                 **axis_common)
fig.update_yaxes(range=[0, 0.7], tickvals=y_tick_values, tickformat=".1f",
                 minor=dict(dtick=0.02, tick0=0, ticks="inside", ticklen=4.5, tickwidth=1.1,
                            tickcolor="black", showgrid=False),
                 **axis_common)

W, H = 764, 472
L, R, T, B = 117, 20, 22, 64
pw, ph = W - L - R, H - T - B


def px_x(p):
    return (p - L) / pw


def px_y(p):
    return (H - B - p) / ph


ann = []
ann.append(dict(text="Blue : <i>m</i><sub><i>H</i></sub> = <i>m</i><sub><i>H</i>±</sub> =&nbsp;&nbsp; 250 GeV",
                x=px_x(147), y=px_y(42), xanchor="left", yanchor="middle",
                font=dict(family=FONT, size=21, color=BLUE)))
ann.append(dict(text="Red : <i>m</i><sub><i>H</i></sub> = <i>m</i><sub><i>H</i>±</sub> =&nbsp;&nbsp; 1 TeV",
                x=px_x(150), y=px_y(80), xanchor="left", yanchor="middle",
                font=dict(family=FONT, size=21, color=RED)))
ann.append(dict(text="<i>m</i><sub><i>A</i></sub>(GeV)", x=px_x(430), y=px_y(459),
                xanchor="center", yanchor="middle", font=dict(family=FONT, size=22, color="black")))
ann.append(dict(text="<i>δ</i>a<sub><i>μ</i></sub> (VLL loop)", x=px_x(20.5), y=px_y(214.5),
                textangle=-90, xanchor="center", yanchor="middle",
                font=dict(family=FONT, size=22, color="black")))
ann.append(dict(text="<i>δ</i>a<sub><i>μ</i></sub> (tau loop)", x=px_x(58.5), y=px_y(216),
                textangle=-90, xanchor="center", yanchor="middle",
                font=dict(family=FONT, size=22, color="black")))
for a in ann:
    a.update(xref="paper", yref="paper", showarrow=False)

fig.update_layout(
    width=W, height=H, margin=dict(l=L, r=R, t=T, b=B, pad=0, autoexpand=False),
    paper_bgcolor="white", plot_bgcolor="white",
    annotations=ann,
    shapes=[dict(type="line", xref="paper", yref="paper",
                 x0=px_x(36.5), x1=px_x(36.5), y0=px_y(289), y1=px_y(140),
                 line=dict(color="black", width=1.3))],
)

# the page's default 8px body margin would shift the figure inside the window
fig.write_html("out.html", config={"displayModeBar": False},
               post_script="document.body.style.margin='0px';")
